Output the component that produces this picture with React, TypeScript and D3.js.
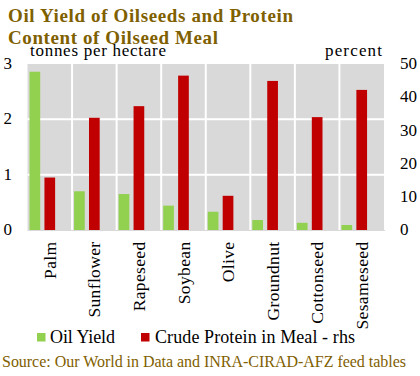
import React from "react";
import * as d3 from "d3";

const categories = ["Palm", "Sunflower", "Rapeseed", "Soybean", "Olive", "Groundnut", "Cottonseed", "Sesameseed"];
const oilYield = [2.86, 0.7, 0.65, 0.44, 0.33, 0.18, 0.13, 0.09];
const crudeProtein = [15.8, 33.8, 37.3, 46.5, 10.3, 44.9, 34.0, 42.2];
const leftTicks = [0, 1, 2, 3];
const rightTicks = [0, 10, 20, 30, 40, 50];

const W = 420, H = 376;
const plot = { left: 27.5, right: 384, top: 64, bottom: 230 };
const FONT = "'Liberation Serif', serif";
const GOLD = "#7f6000";
const GREEN = "#92d050";
const RED = "#c00000";

export default function App() {
  const x = d3.scaleBand<string>().domain(categories).range([plot.left, plot.right]).paddingInner(0).paddingOuter(0);
  const yL = d3.scaleLinear().domain([0, 3]).range([plot.bottom, plot.top]);
  const yR = d3.scaleLinear().domain([0, 50]).range([plot.bottom, plot.top]);
  const bw = x.bandwidth();
  const barW = bw * 0.24;

  return (
    <svg width={W} height={H} style={{ position: "absolute", left: 0, top: 0, fontFamily: FONT }}>
      <rect width={W} height={H} fill="#fff" />
      <text x={8} y={22} fontSize={19} fontWeight="bold" fill={GOLD} textLength={285} lengthAdjust="spacing">Oil Yield of Oilseeds and Protein</text>
      <text x={8} y={44} fontSize={19} fontWeight="bold" fill={GOLD} textLength={210} lengthAdjust="spacing">Content of Oilseed Meal</text>

      <rect x={plot.left} y={plot.top} width={plot.right - plot.left} height={plot.bottom - plot.top} fill="#d9d9d9" />
      {leftTicks.slice(1, 3).map((t) => (
        <line key={t} x1={plot.left} x2={plot.right} y1={yL(t)} y2={yL(t)} stroke="#fff" strokeWidth={2} />
      ))}
      {categories.slice(1).map((c) => (
        <line key={c} x1={x(c)!} x2={x(c)!} y1={plot.top} y2={plot.bottom} stroke="#fff" strokeWidth={2} />
      ))}

      {categories.map((c, i) => (
        <g key={c}>
          <rect x={x(c)! + bw * 0.045} y={yL(oilYield[i])} width={barW} height={yL(0) - yL(oilYield[i])} fill={GREEN} />
          <rect x={x(c)! + bw * 0.38} y={yR(crudeProtein[i])} width={barW} height={yR(0) - yR(crudeProtein[i])} fill={RED} />
        </g>
      ))}
      <line x1={plot.left} x2={plot.right + 1} y1={plot.bottom + 0.5} y2={plot.bottom + 0.5} stroke="#d9d9d9" strokeWidth={1} />

      {leftTicks.map((t) => (
        <text key={t} x={12} y={yL(t)} dy="0.3em" fontSize={17} textAnchor="end">{t}</text>
      ))}
      {rightTicks.map((t) => (
        <text key={t} x={400} y={yR(t)} dy="0.3em" fontSize={17}>{t}</text>
      ))}
      <text x={30} y={56} fontSize={17} textLength={136} lengthAdjust="spacing">tonnes per hectare</text>
      <text x={325} y={56} fontSize={17} textLength={57} lengthAdjust="spacing">percent</text>

      {categories.map((c) => (
        <text key={c} transform={`translate(${x(c)! + bw / 2},${241.5}) rotate(-90)`} dy="0.35em" fontSize={17.5} letterSpacing={0.35} textAnchor="end">{c}</text>
      ))}

      <rect x={37} y={333} width={8.5} height={8.5} fill={GREEN} />
      <text x={50} y={343} fontSize={18} textLength={65} lengthAdjust="spacing">Oil Yield</text>
      <rect x={141} y={333} width={8.5} height={8.5} fill={RED} />
      <text x={155} y={343} fontSize={18} textLength={200} lengthAdjust="spacing">Crude Protein in Meal - rhs</text>

      <text x={2} y={367} fontSize={16} fill={GOLD} textLength={404} lengthAdjust="spacing">Source: Our World in Data and INRA-CIRAD-AFZ feed tables</text>
    </svg>
  );
}
